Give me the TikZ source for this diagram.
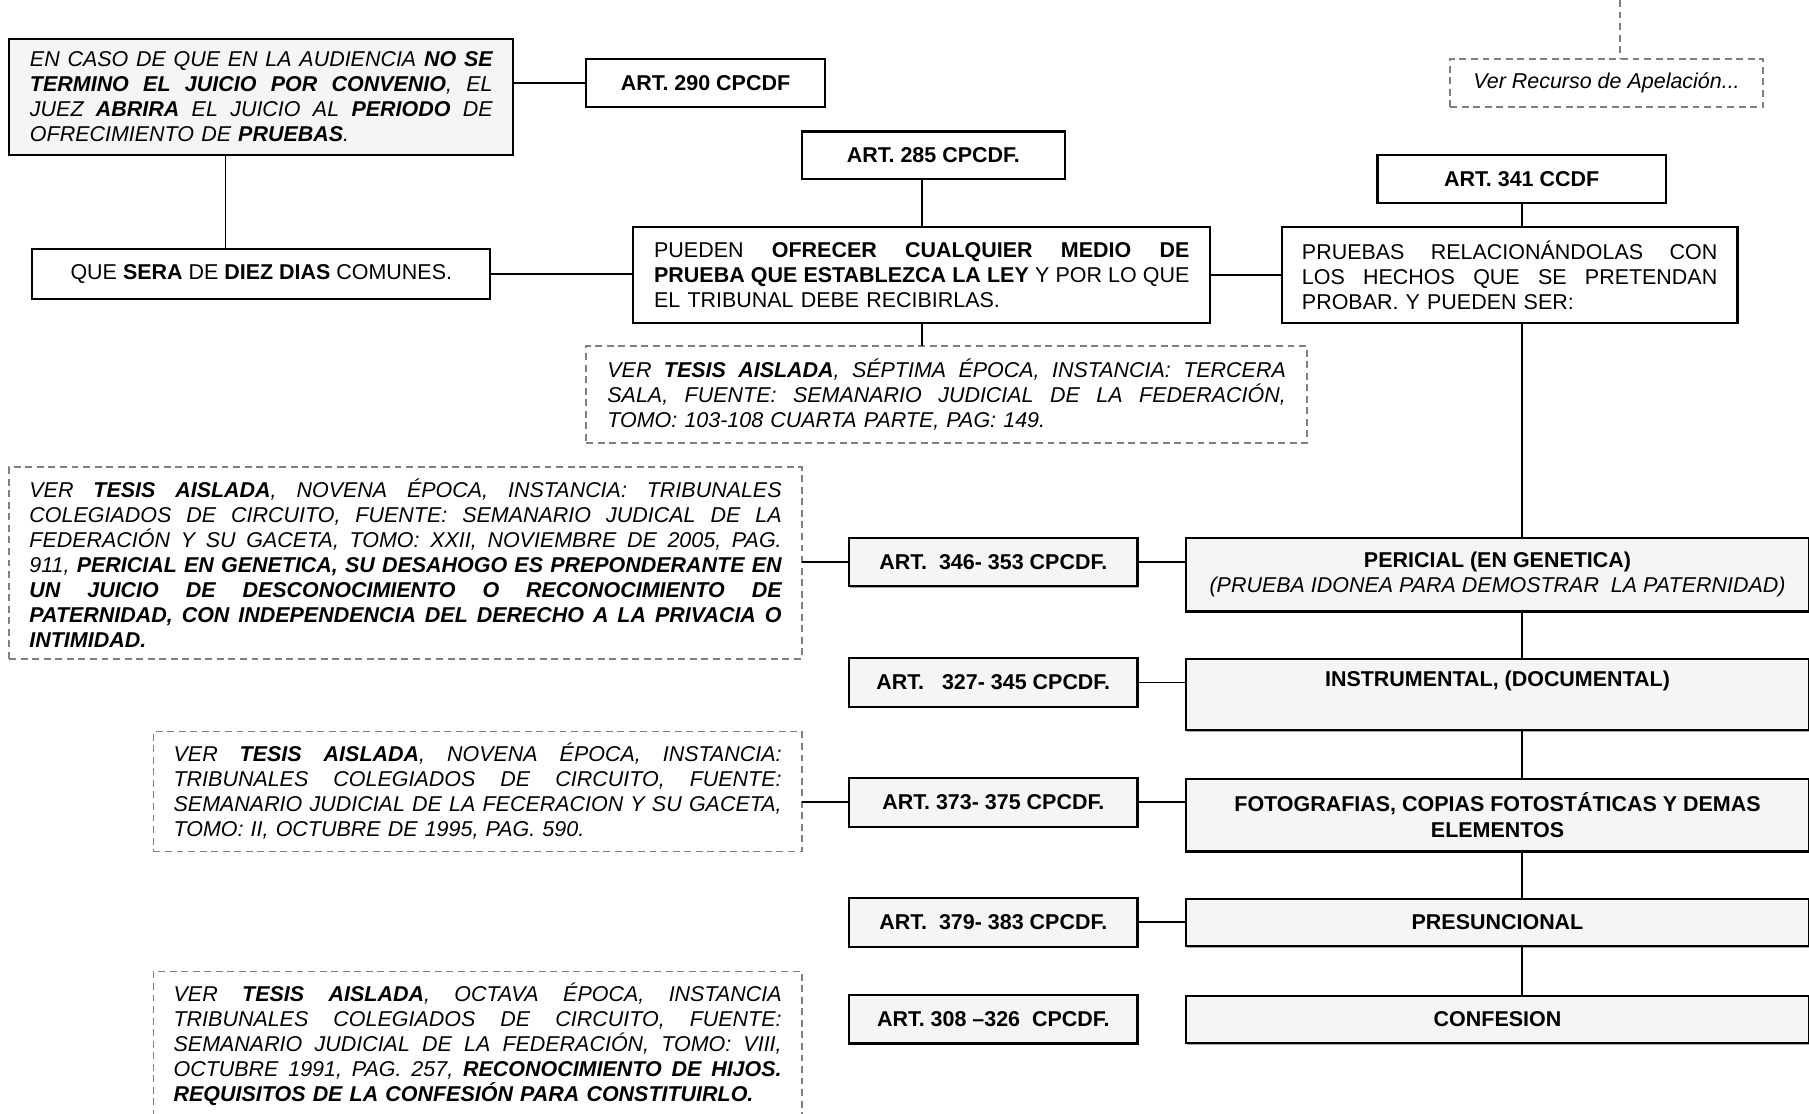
\documentclass[tikz,border=0pt]{standalone}
\usepackage{fontspec}
\setmainfont{Liberation Sans}
\usetikzlibrary{calc,shadows}
\definecolor{boxfill}{RGB}{245,245,245}
\definecolor{notegray}{RGB}{128,128,128}
% one justified line: spaces spread evenly to the column width
\newlength\jlw
\newcommand\jl[1]{\leavevmode\hbox to \jlw{\spaceskip=0.278em plus 1fil\relax #1}}
\newcommand\basefont{\fontsize{9.3}{10.85}\selectfont}
\frenchspacing
\begin{document}
\begin{tikzpicture}[x=0.5pt,y=-0.5pt,
  txt/.style={font=\basefont},
  itxt/.style={font=\basefont\itshape},
  btxt/.style={font=\basefont\bfseries},
  every node/.style={inner sep=0pt, outer sep=0pt, txt},
  justified/.style={text width=#1, align=left, execute at begin node={\setlength{\jlw}{#1}}},
  solidbox/.style={draw=black, line width=0.95pt, fill=white},
  graybox/.style={solidbox, fill=boxfill, drop shadow={shadow xshift=0.3pt, shadow yshift=-0.7pt, fill=black!35, opacity=1}},
  notebox/.style={draw=notegray, line width=0.7pt, dash pattern=on 3pt off 2pt},
  noteline/.style={draw=notegray, line width=0.7pt, dash pattern=on 3pt off 2pt},
  link/.style={draw=black, line width=0.8pt},
  artbox/.style={graybox, minimum width=125pt, minimum height=21pt, btxt},
  kindbox/.style={graybox, minimum width=270pt, align=center},
]
\useasboundingbox (0,0) rectangle (1568,965);

% ---- upper part ----
\node[graybox, minimum width=218.5pt, minimum height=50pt, justified=200.5pt, itxt] (intro) at (226.5,84)
 {\jl{EN CASO DE QUE EN LA AUDIENCIA \textbf{NO SE}}\\
  \jl{\textbf{TERMINO EL JUICIO POR CONVENIO}, EL}\\
  \jl{JUEZ \textbf{ABRIRA} EL JUICIO AL \textbf{PERIODO} DE}\\
  OFRECIMIENTO DE \textbf{PRUEBAS}.};

\node[solidbox, minimum width=103.5pt, minimum height=21pt, btxt] (art290) at (611.5,72) {ART. 290 CPCDF};

\node[solidbox, minimum width=198.5pt, minimum height=21.5pt] (sera) at (226.5,237.5)
 {QUE \textbf{SERA} DE \textbf{DIEZ DIAS} COMUNES.};

\node[solidbox, minimum width=114pt, minimum height=20.5pt, btxt] (art285) at (809,134.5) {ART. 285 CPCDF.};

\node[solidbox, minimum width=250pt, minimum height=41.5pt, justified=232pt] (ofrecer) at (799,238.5)
 {\jl{PUEDEN \textbf{OFRECER CUALQUIER MEDIO DE}}\\
  \jl{\textbf{PRUEBA QUE ESTABLEZCA LA LEY} Y POR LO QUE}\\
  EL TRIBUNAL DEBE RECIBIRLAS.};

\node[notebox, minimum width=312.5pt, minimum height=42pt, justified=294pt, itxt] (tesisA) at (820.5,342)
 {\jl{VER \textbf{TESIS AISLADA}, SÉPTIMA ÉPOCA, INSTANCIA: TERCERA}\\
  \jl{SALA, FUENTE: SEMANARIO JUDICIAL DE LA FEDERACIÓN,}\\
  TOMO: 103-108 CUARTA PARTE, PAG: 149.};

\node[solidbox, minimum width=125pt, minimum height=21pt, btxt] (art341) at (1319,155) {ART. 341 CCDF};

\node[solidbox, minimum width=197.5pt, minimum height=41.5pt, justified=180pt] (pruebas) at (1308.5,238.5)
 {\jl{PRUEBAS RELACIONÁNDOLAS CON}\\
  \jl{LOS HECHOS QUE SE PRETENDAN}\\
  PROBAR. Y PUEDEN SER:};

\node[notebox, minimum width=135.5pt, minimum height=21pt, itxt] (recurso) at (1392.5,72) {Ver Recurso de Apelación...};
\coordinate (recursoTop) at (1404,0);

% ---- kinds of evidence ----
\coordinate (spine) at (1319,0);

\node[kindbox, minimum height=32pt] (pericial) at (1298,498)
 {\textbf{PERICIAL (EN GENETICA)}\\ \textit{(PRUEBA IDONEA PARA DEMOSTRAR\ \ LA PATERNIDAD)}};
\node[kindbox, minimum height=31pt] (instrumental) at (1298,602)
 {\textbf{INSTRUMENTAL, (DOCUMENTAL)}\\ \strut};
\node[kindbox, minimum height=31.5pt] (fotos) at (1298,706.5)
 {\textbf{FOTOGRAFIAS, COPIAS FOTOSTÁTICAS Y DEMAS}\\ \textbf{ELEMENTOS}};
\node[kindbox, minimum height=20.5pt, btxt] (presuncional) at (1298,799.5) {PRESUNCIONAL};
\node[kindbox, minimum height=20.5pt, btxt] (confesion) at (1298,883.5) {CONFESION};

\node[artbox] (art346) at (861,487) {ART.\ \ 346- 353 CPCDF.};
\node[artbox] (art327) at (861,591.5) {ART.\ \ \ 327- 345 CPCDF.};
\node[artbox] (art373) at (861,695.5) {ART. 373- 375 CPCDF.};
\node[artbox] (art379) at (861,799.5) {ART.\ \ 379- 383 CPCDF.};
\node[artbox] (art308) at (861,883.5) {ART. 308 –326\ \ CPCDF.};

% ---- thesis notes ----
\node[notebox, minimum width=343.5pt, minimum height=83pt, justified=326pt, itxt] (tesisB) at (351.5,488)
 {\jl{VER \textbf{TESIS AISLADA}, NOVENA ÉPOCA, INSTANCIA: TRIBUNALES}\\
  \jl{COLEGIADOS DE CIRCUITO, FUENTE: SEMANARIO JUDICAL DE LA}\\
  \jl{FEDERACIÓN Y SU GACETA, TOMO: XXII, NOVIEMBRE DE 2005, PAG.}\\
  \jl{911, \textbf{PERICIAL EN GENETICA, SU DESAHOGO ES PREPONDERANTE EN}}\\
  \jl{\textbf{UN JUICIO DE DESCONOCIMIENTO O RECONOCIMIENTO DE}}\\
  \jl{\textbf{PATERNIDAD, CON INDEPENDENCIA DEL DERECHO A LA PRIVACIA O}}\\
  \textbf{INTIMIDAD.}};

\node[notebox, minimum width=281pt, minimum height=52pt, justified=263.5pt, itxt] (tesisC) at (414,686)
 {\jl{VER \textbf{TESIS AISLADA}, NOVENA ÉPOCA, INSTANCIA:}\\
  \jl{TRIBUNALES COLEGIADOS DE CIRCUITO, FUENTE:}\\
  \jl{SEMANARIO JUDICIAL DE LA FECERACION Y SU GACETA,}\\
  TOMO: II, OCTUBRE DE 1995, PAG. 590.};

\node[notebox, minimum width=281pt, minimum height=63pt, justified=263.5pt, itxt] (tesisD) at (414,905)
 {\jl{VER \textbf{TESIS AISLADA}, OCTAVA ÉPOCA, INSTANCIA}\\
  \jl{TRIBUNALES COLEGIADOS DE CIRCUITO, FUENTE:}\\
  \jl{SEMANARIO JUDICIAL DE LA FEDERACIÓN, TOMO: VIII,}\\
  \jl{OCTUBRE 1991, PAG. 257, \textbf{RECONOCIMIENTO DE HIJOS.}}\\
  \textbf{REQUISITOS DE LA CONFESIÓN PARA CONSTITUIRLO.}};

% ---- connectors ----
\coordinate (leftdrop) at (195.5,0);
\draw[link] (art290.west) -- (art290.west -| intro.east);
\draw[link] (intro.south -| leftdrop) -- (sera.north -| leftdrop);
\draw[link] (sera.east) -- (sera.east -| ofrecer.west);
\draw[link] (ofrecer.north) -- (ofrecer.north |- art285.south);
\draw[link] (ofrecer.south) -- (ofrecer.south |- tesisA.north);
\draw[link] (ofrecer.east) -- (ofrecer.east -| pruebas.west);
\draw[link] (art341.south) -- (art341.south |- pruebas.north);
\draw[noteline] (recursoTop) -- (recursoTop |- recurso.north);

\draw[link] (pruebas.south -| spine) -- (pericial.north -| spine);
\draw[link] (pericial.south -| spine) -- (instrumental.north -| spine);
\draw[link] (instrumental.south -| spine) -- (fotos.north -| spine);
\draw[link] (fotos.south -| spine) -- (presuncional.north -| spine);
\draw[link] (presuncional.south -| spine) -- (confesion.north -| spine);

\draw[link] (art346.east) -- (art346.east -| pericial.west);
\draw[link] (art327.east) -- (art327.east -| instrumental.west);
\draw[link] (art373.east) -- (art373.east -| fotos.west);
\draw[link] (art379.east) -- (art379.east -| presuncional.west);

\draw[link] (tesisB.east |- art346.west) -- (art346.west);
\draw[link] (tesisC.east |- art373.west) -- (art373.west);
\end{tikzpicture}
\end{document}
